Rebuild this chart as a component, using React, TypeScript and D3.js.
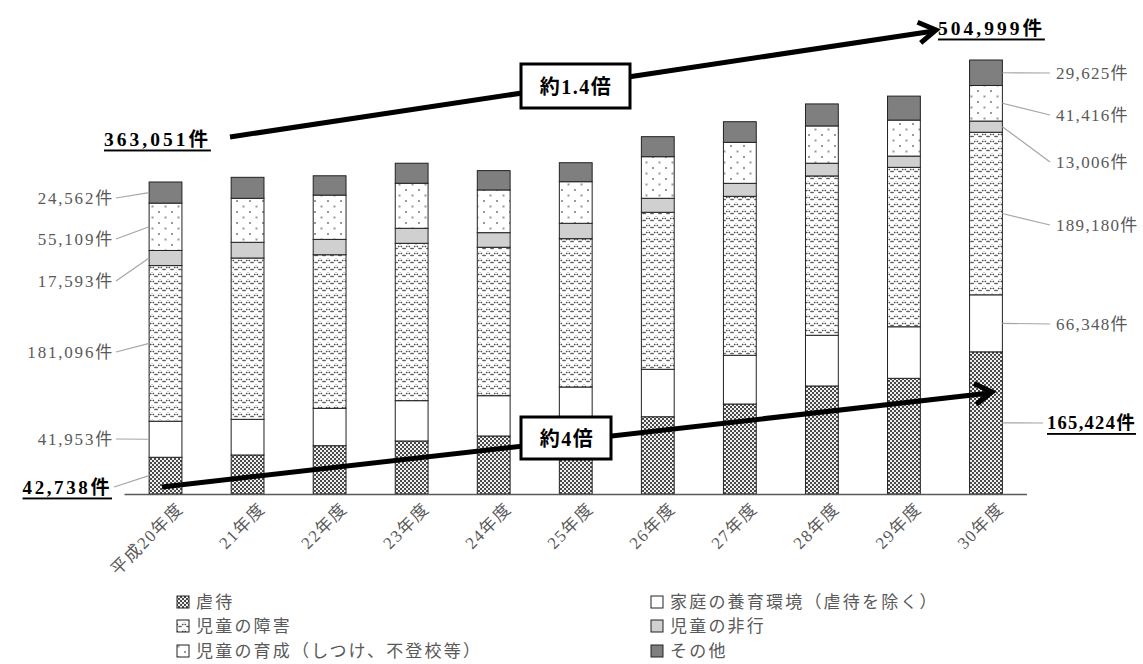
import React from 'react';
import * as d3 from 'd3';

const categories = ['平成20年度', '21年度', '22年度', '23年度', '24年度', '25年度', '26年度', '27年度', '28年度', '29年度', '30年度'];
const seriesNames = ['虐待', '家庭の養育環境（虐待を除く）', '児童の障害', '児童の非行', '児童の育成（しつけ、不登校等）', 'その他'];
const gyakutai = [42738, 45400, 56200, 61700, 67500, 73800, 89900, 104700, 125700, 134600, 165424];
const katei = [41953, 41500, 43500, 46900, 46900, 50700, 55200, 56700, 59000, 60000, 66348];
const shogai = [181096, 187700, 178700, 183100, 172700, 172600, 182700, 185000, 185400, 185500, 189180];
const hiko = [17593, 18300, 17900, 17500, 17000, 17900, 16300, 15100, 14800, 13100, 13006];
const ikusei = [55109, 51200, 51500, 52400, 49700, 48400, 48400, 47700, 43400, 41900, 41416];
const sonota = [24562, 24400, 22500, 23300, 22500, 22100, 23300, 24000, 25600, 27900, 29625];
const totalFirst = '363,051件';
const totalLast = '504,999件';
const ratioTotal = '約1.4倍';
const ratioAbuse = '約4倍';

const seriesValues = [gyakutai, katei, shogai, hiko, ikusei, sonota];
const fills = ['url(#pChecker)', '#ffffff', 'url(#pZig)', '#d0d0d0', 'url(#pDots)', '#7f7f7f'];

const fmt = (v: number) => d3.format(',')(v) + '件';

const W = 1143;
const H = 664;
const BASE = 494;
const K = 312 / 363051;

export default function App() {
  const keys = seriesNames;
  const rows = categories.map((c, i) => {
    const r: any = { cat: c };
    keys.forEach((k, j) => (r[k] = seriesValues[j][i]));
    return r;
  });
  const stacked = d3.stack<any>().keys(keys)(rows);
  const x = d3.scaleBand<string>().domain(categories).range([124.5, 1027]).paddingInner(0.6).paddingOuter(0.3);
  const y = d3.scaleLinear().domain([0, 600000]).range([BASE, BASE - 600000 * K]);
  const bw = x.bandwidth();
  const first = categories[0];
  const last = categories[categories.length - 1];
  const n = categories.length - 1;
  const mid = (s: number, i: number) => (y(stacked[s][i][0]) + y(stacked[s][i][1])) / 2;

  const textGray = '#595959';
  const font = "'Liberation Serif','Noto Sans CJK JP',serif";

  // label y positions (series order bottom to top)
  const leftLabelY = [487, 439, 352, 281, 239, 198];
  const rightLabelY = [423, 324, 225, 162, 115, 73];

  const legendItems = [
    { s: 0, col: 0, row: 0 },
    { s: 1, col: 1, row: 0 },
    { s: 2, col: 0, row: 1 },
    { s: 3, col: 1, row: 1 },
    { s: 4, col: 0, row: 2 },
    { s: 5, col: 1, row: 2 },
  ];
  const legendColX = [177, 651];
  const legendRowY = [602, 626, 651];

  const arrowHead = (x1: number, y1: number, x2: number, y2: number, len: number) => {
    const a = Math.atan2(y2 - y1, x2 - x1);
    const s = 0.55;
    const p1 = [x2 - len * Math.cos(a - s), y2 - len * Math.sin(a - s)];
    const p2 = [x2 - len * Math.cos(a + s), y2 - len * Math.sin(a + s)];
    return `M${p1[0]},${p1[1]} L${x2},${y2} L${p2[0]},${p2[1]}`;
  };

  return (
    <svg width={W} height={H} style={{ position: 'absolute', left: 0, top: 0, background: '#fff' }} fontFamily={font}>
      <defs>
        <pattern id="pChecker" width="4" height="4" patternUnits="userSpaceOnUse">
          <rect width="4" height="4" fill="#f0f0f0" />
          <rect x="0" y="0" width="2" height="2" fill="#4a4a4a" />
          <rect x="2" y="2" width="2" height="2" fill="#4a4a4a" />
        </pattern>
        <pattern id="pZig" width="8" height="7" patternUnits="userSpaceOnUse">
          <rect width="8" height="7" fill="#ffffff" />
          <path d="M-1,-1 L4,4.5 L9,-1 M-1,6 L4,11.5 L9,6" stroke="#4a4a4a" strokeWidth="1.5" fill="none" strokeDasharray="1.5 1.2" />
        </pattern>
        <pattern id="pDots" width="13" height="11" patternUnits="userSpaceOnUse">
          <rect width="13" height="11" fill="#ffffff" />
          <rect x="2" y="2" width="2" height="2" fill="#999" />
          <rect x="8.5" y="7.5" width="2" height="2" fill="#999" />
        </pattern>
      </defs>

      {/* bars */}
      {stacked.map((layer, s) => (
        <g key={s}>
          {layer.map((d, i) => (
            <rect
              key={i}
              x={x(categories[i])}
              y={y(d[1])}
              width={bw}
              height={y(d[0]) - y(d[1])}
              fill={fills[s]}
              stroke="#222"
              strokeWidth={1}
            />
          ))}
        </g>
      ))}

      {/* axis */}
      <line x1={124.5} x2={1027} y1={BASE + 0.5} y2={BASE + 0.5} stroke={textGray} strokeWidth={1.3} />
      {categories.map((c) => {
        const cx = (x(c) as number) + bw / 2;
        return (
          <text
            key={c}
            transform={`translate(${cx + 16},${BASE + 13}) rotate(-45)`}
            textAnchor="end"
            dominantBaseline="middle"
            fontSize={17}
            letterSpacing={1.5}
            fill={textGray}
          >
            {c}
          </text>
        );
      })}

      {/* left leader lines & labels */}
      {seriesValues.map((vals, s) => {
        const lx = x(first) as number;
        const ly = leftLabelY[s];
        const bold = s === 0;
        return (
          <g key={'l' + s}>
            <line x1={bold ? 114 : 116} y1={ly} x2={lx} y2={mid(s, 0)} stroke="#a6a6a6" strokeWidth={1.2} />
            <text
              x={bold ? 112 : 114}
              y={ly}
              textAnchor="end"
              dominantBaseline="central"
              fontSize={bold ? 19 : 17}
              letterSpacing={bold ? 2.6 : 1.8}
              fontWeight={bold ? 'bold' : 'normal'}
              fill={bold ? '#000' : textGray}
              textDecoration={bold ? 'underline' : undefined}
            >
              {fmt(vals[0])}
            </text>
          </g>
        );
      })}

      {/* right leader lines & labels */}
      {seriesValues.map((vals, s) => {
        const rx = (x(last) as number) + bw;
        const ly = rightLabelY[s];
        const bold = s === 0;
        return (
          <g key={'r' + s}>
            <line x1={rx} y1={mid(s, n)} x2={bold ? 1043 : 1050} y2={ly} stroke="#a6a6a6" strokeWidth={1.2} />
            <text
              x={bold ? 1047 : 1056}
              y={ly}
              textAnchor="start"
              dominantBaseline="central"
              fontSize={bold ? 18.5 : 17}
              letterSpacing={1.3}
              fontWeight={bold ? 'bold' : 'normal'}
              fill={bold ? '#000' : textGray}
              textDecoration={bold ? 'underline' : undefined}
            >
              {fmt(vals[n])}
            </text>
          </g>
        );
      })}

      {/* totals */}
      <text x={104} y={139} textAnchor="start" dominantBaseline="central" fontSize={19.5} letterSpacing={3} fontWeight="bold" textDecoration="underline" fill="#000">
        {totalFirst}
      </text>
      <text x={938} y={28} textAnchor="start" dominantBaseline="central" fontSize={19.5} letterSpacing={3} fontWeight="bold" textDecoration="underline" fill="#000">
        {totalLast}
      </text>

      {/* arrows */}
      <line x1={230} y1={137} x2={934} y2={31} stroke="#000" strokeWidth={5} />
      <path d={arrowHead(230, 137, 936, 30, 20)} stroke="#000" strokeWidth={5} fill="none" strokeLinejoin="miter" />
      <line x1={162} y1={487} x2={990} y2={393} stroke="#000" strokeWidth={5} />
      <path d={arrowHead(162, 487, 992, 392, 20)} stroke="#000" strokeWidth={5} fill="none" strokeLinejoin="miter" />

      {/* ratio boxes */}
      <rect x={521} y={64} width={109} height={44} fill="#fff" stroke="#000" strokeWidth={3} />
      <text x={576} y={87} textAnchor="middle" dominantBaseline="central" fontSize={20} letterSpacing={1.5} fontWeight="bold" fill="#000">
        {ratioTotal}
      </text>
      <rect x={521} y={417} width={90} height={42} fill="#fff" stroke="#000" strokeWidth={3} />
      <text x={567} y={439} textAnchor="middle" dominantBaseline="central" fontSize={20} letterSpacing={1.5} fontWeight="bold" fill="#000">
        {ratioAbuse}
      </text>

      {/* legend */}
      {legendItems.map((it) => (
        <g key={'lg' + it.s}>
          <rect
            x={legendColX[it.col]}
            y={legendRowY[it.row] - 6}
            width={12}
            height={12}
            fill={fills[it.s]}
            stroke="#222"
            strokeWidth={1}
          />
          <text x={legendColX[it.col] + 19} y={legendRowY[it.row]} dominantBaseline="central" fontSize={17} letterSpacing={2.2} fill={textGray}>
            {seriesNames[it.s]}
          </text>
        </g>
      ))}
    </svg>
  );
}
